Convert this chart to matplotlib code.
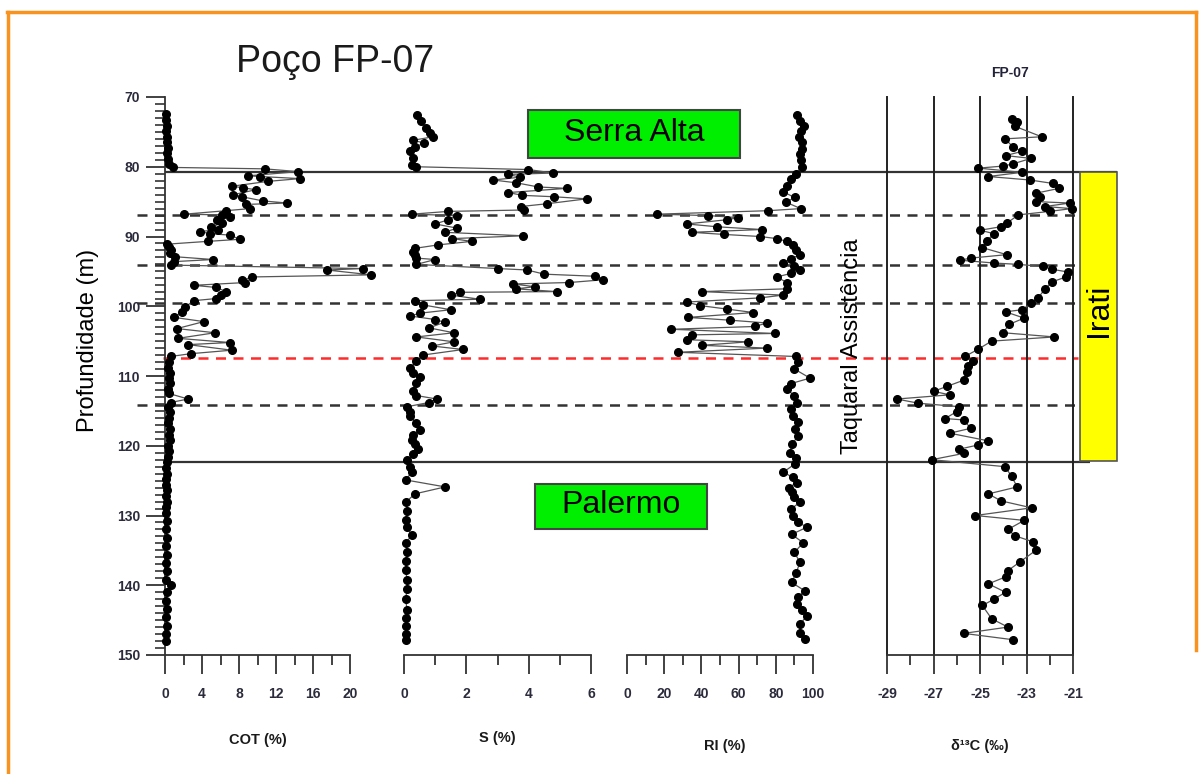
import matplotlib
matplotlib.use('Agg')
import matplotlib.pyplot as plt
from matplotlib.patches import Rectangle
from matplotlib.lines import Line2D
from matplotlib.ticker import MultipleLocator, FixedLocator

# --- data (depth in m) ---
cot_depth = [72.5, 73.3, 74.1, 74.9, 75.7, 76.5, 77.3, 78.1, 78.9, 79.6,
             80.1, 80.3, 80.7, 81.3, 81.4, 81.7, 82.1, 82.8, 83.0, 83.3,
             84.0, 84.3, 84.9, 85.2, 85.4, 86.0, 86.3, 86.8, 86.9, 87.2,
             87.6, 88.1, 88.6, 89.0, 89.3, 89.6, 89.8, 90.4, 90.7, 91.1,
             91.5, 91.9, 92.4, 92.9, 93.3, 93.6, 94.1, 94.6, 94.8, 95.5,
             95.8, 96.3, 96.6, 97.0, 97.3, 97.9, 98.4, 98.9, 99.2, 100.1,
             100.8, 101.6, 102.2, 103.2, 103.8, 104.6, 105.2, 105.5, 106.3, 106.8,
             107.2, 108.0, 108.8, 109.5, 110.3, 111.0, 111.8, 112.5, 113.3, 113.8,
             114.4, 115.2, 116.0, 116.8, 117.6, 118.4, 119.2, 120.0, 120.8, 121.6,
             122.4, 123.2, 124.0, 124.8, 125.6, 126.4, 127.2, 128.0, 128.8, 129.6,
             130.8, 132.0, 133.2, 134.4, 135.6, 136.8, 138.0, 139.2, 140.0, 141.0,
             142.2, 143.4, 144.6, 145.8, 147.0, 148.0]
cot_values = [0.1, 0.1, 0.2, 0.1, 0.2, 0.2, 0.3, 0.2, 0.3, 0.4,
              0.9, 10.8, 14.4, 9.0, 10.3, 14.6, 11.1, 7.2, 8.4, 9.8,
              7.4, 8.3, 10.6, 13.2, 8.8, 9.2, 6.6, 2.1, 6.2, 7.0,
              5.6, 6.2, 5.0, 5.7, 3.8, 4.9, 7.0, 8.1, 4.6, 0.2,
              0.4, 0.7, 0.5, 1.1, 5.2, 1.0, 0.6, 21.4, 17.5, 22.3,
              9.4, 8.3, 8.7, 3.1, 5.5, 6.6, 6.1, 5.5, 3.1, 2.2,
              1.8, 1.0, 4.2, 1.3, 5.4, 1.4, 7.0, 2.5, 7.2, 2.8,
              0.6, 0.4, 0.3, 0.5, 0.4, 0.5, 0.3, 0.4, 2.5, 0.6,
              0.3, 0.5, 0.4, 0.3, 0.5, 0.4, 0.5, 0.3, 0.4, 0.3,
              0.2, 0.1, 0.2, 0.1, 0.1, 0.2, 0.1, 0.2, 0.1, 0.1,
              0.2, 0.1, 0.2, 0.1, 0.2, 0.1, 0.2, 0.1, 0.6, 0.2,
              0.1, 0.2, 0.1, 0.2, 0.1, 0.1]

s_depth = [72.6, 73.5, 74.4, 75.2, 75.7, 76.2, 76.6, 77.2, 77.8, 78.7,
           79.7, 80.0, 80.4, 80.9, 81.1, 81.5, 81.9, 82.3, 82.9, 83.1,
           83.7, 84.1, 84.3, 84.6, 85.3, 85.7, 86.2, 86.4, 86.8, 87.0,
           87.6, 88.2, 88.8, 89.4, 89.9, 90.3, 90.7, 91.2, 91.7, 92.2,
           92.7, 93.1, 93.3, 94.0, 94.6, 94.8, 95.4, 95.7, 96.2, 96.6,
           96.8, 97.2, 97.5, 97.9, 98.0, 98.4, 99.0, 99.2, 99.8, 100.5,
           101.0, 101.4, 101.9, 102.3, 103.1, 103.8, 104.4, 105.1, 105.7, 106.2,
           107.0, 107.9, 108.8, 109.5, 110.1, 111.0, 112.1, 112.8, 113.3, 113.8,
           114.4, 115.1, 115.8, 116.8, 117.8, 118.5, 119.2, 119.8, 120.4, 121.2,
           122.1, 123.0, 123.8, 124.9, 125.9, 126.9, 128.0, 129.3, 130.6, 131.7,
           132.8, 134.0, 135.2, 136.5, 137.8, 139.2, 140.6, 142.0, 143.5, 144.7,
           145.9, 147.0, 147.9]
s_values = [0.41, 0.56, 0.7, 0.85, 0.94, 0.30, 0.64, 0.35, 0.2, 0.3,
            0.25, 0.4, 3.99, 4.79, 3.35, 3.72, 2.86, 3.6, 4.31, 5.22,
            3.35, 3.8, 4.8, 5.86, 4.6, 3.75, 3.85, 1.42, 0.25, 1.7,
            1.42, 1.0, 1.7, 1.3, 3.83, 1.55, 2.17, 1.1, 0.35, 0.3,
            0.35, 0.4, 1.0, 0.4, 3.03, 3.95, 4.5, 6.13, 6.4, 5.3,
            3.5, 4.2, 3.6, 4.9, 1.8, 1.5, 2.44, 0.35, 0.6, 1.5,
            0.5, 0.2, 1.0, 1.3, 0.8, 1.6, 0.4, 1.6, 0.9, 1.9,
            0.6, 0.4, 0.2, 0.3, 0.51, 0.4, 0.3, 0.4, 1.05, 0.8,
            0.1, 0.2, 0.2, 0.4, 0.5, 0.3, 0.25, 0.35, 0.45, 0.3,
            0.1, 0.2, 0.25, 0.05, 1.32, 0.35, 0.08, 0.1, 0.05, 0.1,
            0.25, 0.05, 0.1, 0.05, 0.05, 0.1, 0.1, 0.05, 0.1, 0.05,
            0.05, 0.05, 0.05]

ri_depth = [72.6, 73.4, 74.1, 74.9, 75.7, 76.5, 77.4, 78.2, 79.1, 80.0,
            81.0, 81.8, 82.7, 83.6, 84.4, 85.1, 86.0, 86.3, 86.8, 87.0,
            87.3, 87.6, 88.2, 88.6, 89.0, 89.4, 89.7, 90.0, 90.3, 90.7,
            91.2, 91.9, 92.6, 93.2, 93.8, 94.3, 94.8, 95.3, 95.8, 96.6,
            97.5, 97.9, 98.4, 98.8, 99.4, 99.9, 100.4, 100.9, 101.6, 102.0,
            102.4, 102.9, 103.3, 103.9, 104.1, 104.8, 105.1, 105.6, 106.0, 106.6,
            107.2, 108.0, 109.0, 110.3, 111.1, 111.9, 112.8, 113.8, 114.7, 115.7,
            116.6, 117.6, 118.6, 119.8, 121.0, 121.8, 122.6, 123.8, 124.5, 125.3,
            126.0, 126.7, 127.4, 128.1, 129.1, 130.1, 130.9, 131.7, 132.7, 133.9,
            135.3, 136.7, 138.2, 139.6, 140.8, 141.7, 142.7, 143.5, 144.4, 145.6,
            146.8, 147.7]
ri_values = [91.6, 93.0, 95.2, 93.5, 92.5, 94.0, 94.3, 92.8, 93.4, 94.0,
             90.7, 88.0, 86.0, 84.0, 90.1, 85.6, 93.4, 76.0, 16.0, 43.7,
             59.9, 53.6, 32.1, 48.2, 72.4, 34.8, 51.9, 71.5, 80.5, 86.0,
             89.4, 91.0, 93.0, 88.0, 84.1, 90.0, 93.0, 88.0, 80.5, 86.0,
             85.8, 40.2, 84.0, 71.5, 32.1, 39.2, 53.6, 68.0, 32.9, 55.5,
             75.3, 68.6, 23.9, 79.4, 35.0, 32.1, 65.1, 40.2, 75.3, 27.2,
             90.7, 92.0, 90.0, 98.4, 88.0, 85.8, 90.0, 91.2, 88.0, 89.4,
             92.0, 90.5, 92.1, 88.5, 87.6, 91.0, 90.3, 84.0, 89.0, 91.2,
             87.0, 88.5, 90.0, 93.0, 88.0, 89.4, 92.0, 96.6, 88.5, 94.7,
             90.0, 93.0, 91.0, 88.5, 95.6, 92.0, 91.2, 94.0, 96.6, 93.0,
             93.0, 95.6]

d13c_depth = [73.1, 73.6, 74.2, 75.7, 76.0, 77.1, 77.8, 78.4, 78.8, 79.6,
              79.9, 80.2, 80.8, 81.4, 81.9, 82.4, 83.1, 83.8, 84.3, 85.0,
              85.2, 85.7, 86.0, 86.4, 86.9, 88.1, 88.6, 89.1, 89.6, 90.6,
              91.6, 92.6, 93.1, 93.4, 93.8, 94.0, 94.3, 94.7, 95.1, 95.8,
              96.5, 97.5, 98.8, 99.6, 100.5, 100.8, 101.7, 102.6, 103.8, 104.4,
              105.0, 106.2, 107.2, 107.8, 108.6, 109.4, 110.6, 111.5, 112.2, 112.7,
              113.3, 113.9, 114.4, 115.1, 116.1, 116.3, 117.5, 118.2, 119.3, 119.9,
              120.5, 121.1, 122.0, 123.0, 124.4, 125.9, 126.9, 127.9, 128.9, 130.0,
              130.7, 132.0, 132.9, 133.8, 135.0, 136.7, 137.9, 138.8, 139.8, 141.0,
              142.0, 142.9, 144.8, 146.0, 146.9, 147.8]
d13c_values = [-23.64, -23.4, -23.5, -22.35, -23.92, -23.6, -23.2, -23.9, -22.8, -23.6,
               -24.0, -25.07, -23.2, -24.64, -22.85, -21.85, -21.6, -22.6, -22.4, -22.6,
               -21.13, -22.2, -21.06, -22.0, -23.35, -23.85, -24.1, -24.99, -24.4, -24.7,
               -24.9, -23.85, -25.4, -25.86, -24.4, -23.35, -22.28, -21.9, -21.2, -21.3,
               -21.9, -22.2, -22.5, -22.8, -23.2, -23.9, -23.1, -23.75, -24.0, -21.8,
               -24.5, -25.1, -25.65, -25.3, -25.5, -25.57, -25.7, -26.43, -27.0, -26.3,
               -28.58, -27.65, -25.9, -26.0, -26.5, -25.7, -25.4, -26.3, -24.64, -25.1,
               -25.9, -25.7, -27.08, -23.92, -23.64, -23.4, -24.64, -24.1, -22.78, -25.2,
               -23.1, -23.8, -23.5, -22.7, -22.6, -23.3, -23.8, -23.9, -24.64, -23.9,
               -24.4, -24.9, -24.5, -23.8, -25.7, -23.6]
d13c_ticks = [-29, -27, -25, -23, -21]
d13c_minor = [-28, -26, -24, -22]

# formation contacts and internal markers (depth, m)
solid_contacts = [80.7, 122.4]
dashed_markers = [86.9, 94.1, 99.5, 114.1]
red_marker = 107.4

W, H = 1202, 774
plt.rcParams['font.family'] = ['Liberation Sans', 'DejaVu Sans']
plt.rcParams['axes.unicode_minus'] = False
narrow = ['Liberation Sans Narrow', 'Liberation Sans', 'DejaVu Sans']
tick_col = '#2b2b3c'


def fx(x):
    return x / W


def fy(y):
    return 1 - y / H


fig = plt.figure(figsize=(W / 100, H / 100), dpi=100)
bot = fy(655)
hgt = (655 - 97) / H

# overlay for the lines that run across all the panels
ov = fig.add_axes([0, bot, 1, hgt], zorder=0)
ov.set_xlim(0, W)
ov.set_ylim(150, 70)
ov.axis('off')
ov.hlines(solid_contacts[0], 165, 1117, color='#333333', lw=1.6)
ov.hlines(solid_contacts[1], 167, 1090, color='#333333', lw=1.6)
for d in dashed_markers:
    ov.hlines(d, 137, 1078, color='#333333', lw=1.8, linestyles=(0, (4, 3)))
ov.hlines(red_marker, 163, 1078, color='#ff2a2a', lw=1.8, linestyles=(0, (4, 3)))


def panel(x0, x1, xlim, major, minor):
    ax = fig.add_axes([fx(x0), bot, fx(x1) - fx(x0), hgt], zorder=1)
    ax.patch.set_alpha(0)
    ax.set_xlim(*xlim)
    ax.set_ylim(150, 70)
    ax.xaxis.set_major_locator(FixedLocator(major))
    ax.xaxis.set_minor_locator(FixedLocator(minor))
    ax.tick_params(axis='x', which='major', length=14, width=1.3, pad=9,
                   labelsize=10, labelcolor=tick_col, color='#333333')
    ax.tick_params(axis='x', which='minor', length=7, width=1.3, color='#333333')
    ax.spines[['top', 'right']].set_visible(False)
    ax.spines['bottom'].set_linewidth(1.3)
    ax.spines['bottom'].set_color('#333333')
    plt.setp(ax.get_xticklabels(), family=narrow, weight='bold')
    return ax


def profile(ax, vals, depth):
    ax.plot(vals, depth, '-', color='#555555', lw=0.9, zorder=2, clip_on=False)
    ax.plot(vals, depth, 'o', color='black', ms=5.5, zorder=3, clip_on=False)


# COT
ax1 = panel(165, 350, (0, 20), [0, 4, 8, 12, 16, 20], [2, 6, 10, 14, 18])
ax1.yaxis.set_major_locator(MultipleLocator(10))
ax1.yaxis.set_minor_locator(MultipleLocator(1))
ax1.tick_params(axis='y', which='major', length=14, width=1.3, pad=4,
                labelsize=10, labelcolor=tick_col, color='#333333')
ax1.tick_params(axis='y', which='minor', length=7, width=1.2, color='#333333')
ax1.spines['left'].set_linewidth(1.3)
ax1.spines['left'].set_color('#333333')
plt.setp(ax1.get_yticklabels(), family=narrow, weight='bold')
profile(ax1, cot_values, cot_depth)

# S
ax2 = panel(404, 591, (0, 6), [0, 2, 4, 6], [1, 3, 5])
ax2.spines['left'].set_visible(False)
ax2.set_yticks([])
profile(ax2, s_values, s_depth)

# RI
ax3 = panel(627, 813, (0, 100), [0, 20, 40, 60, 80, 100], [10, 30, 50, 70, 90])
ax3.spines['left'].set_visible(False)
ax3.set_yticks([])
profile(ax3, ri_values, ri_depth)

# d13C, with a full-height line at every major tick
ax4 = panel(887, 1073, (-29, -21), d13c_ticks, d13c_minor)
ax4.spines['left'].set_visible(False)
ax4.set_yticks([])
for t in d13c_ticks:
    ax4.axvline(t, color='#222222', lw=1.4, zorder=1, clip_on=False)
profile(ax4, d13c_values, d13c_depth)

# axis titles
lab = dict(ha='center', va='center', fontsize=10.5, weight='bold', family=narrow, color='#1a1a1a')
fig.text(fx(258), fy(740), 'COT (%)', **lab)
fig.text(fx(497), fy(738), 'S (%)', **lab)
fig.text(fx(725), fy(746), 'RI (%)', **lab)
fig.text(fx(980), fy(746), 'δ¹³C (‰)', **lab)
fig.text(fx(1010), fy(73), 'FP-07', ha='center', va='center', fontsize=10,
         weight='bold', family=narrow, color='#22223a')

fig.text(fx(335), fy(62), 'Poço FP-07', ha='center', va='center', fontsize=27, color='#1a1a1a')
fig.text(fx(88), fy(340), 'Profundidade (m)', ha='center', va='center',
         rotation=90, fontsize=17)
fig.text(fx(852), fy(346), 'Taquaral Assistência', ha='center', va='center',
         rotation=90, fontsize=17, zorder=5)

# formation boxes
fig.add_artist(Rectangle((fx(528), fy(158)), fx(740) - fx(528), (158 - 110) / H,
                         transform=fig.transFigure, facecolor='#00ee00',
                         edgecolor='#444444', lw=1.5, zorder=5))
fig.text(fx(634), fy(133), 'Serra Alta', ha='center', va='center', fontsize=23, zorder=6)
fig.add_artist(Rectangle((fx(535), fy(529)), fx(707) - fx(535), (529 - 484) / H,
                         transform=fig.transFigure, facecolor='#00ee00',
                         edgecolor='#444444', lw=1.5, zorder=5))
fig.text(fx(621), fy(505), 'Palermo', ha='center', va='center', fontsize=23, zorder=6)
fig.add_artist(Rectangle((fx(1080), fy(461)), fx(1117) - fx(1080), (461 - 172) / H,
                         transform=fig.transFigure, facecolor='#ffff00',
                         edgecolor='#555555', lw=1.2, zorder=2))
fig.text(fx(1099), fy(310), 'Irati', ha='center', va='center', rotation=90,
         fontsize=23, zorder=6)

# orange frame
frame = dict(transform=fig.transFigure, color='#f7931e', lw=2.5)
fig.add_artist(Line2D([fx(8), fx(8)], [fy(772), fy(12)], **frame))
fig.add_artist(Line2D([fx(7), fx(1196)], [fy(12), fy(12)], **frame))
fig.add_artist(Line2D([fx(1196), fx(1196)], [fy(12), fy(650)], **frame))

fig.savefig('out.png', dpi=100)
